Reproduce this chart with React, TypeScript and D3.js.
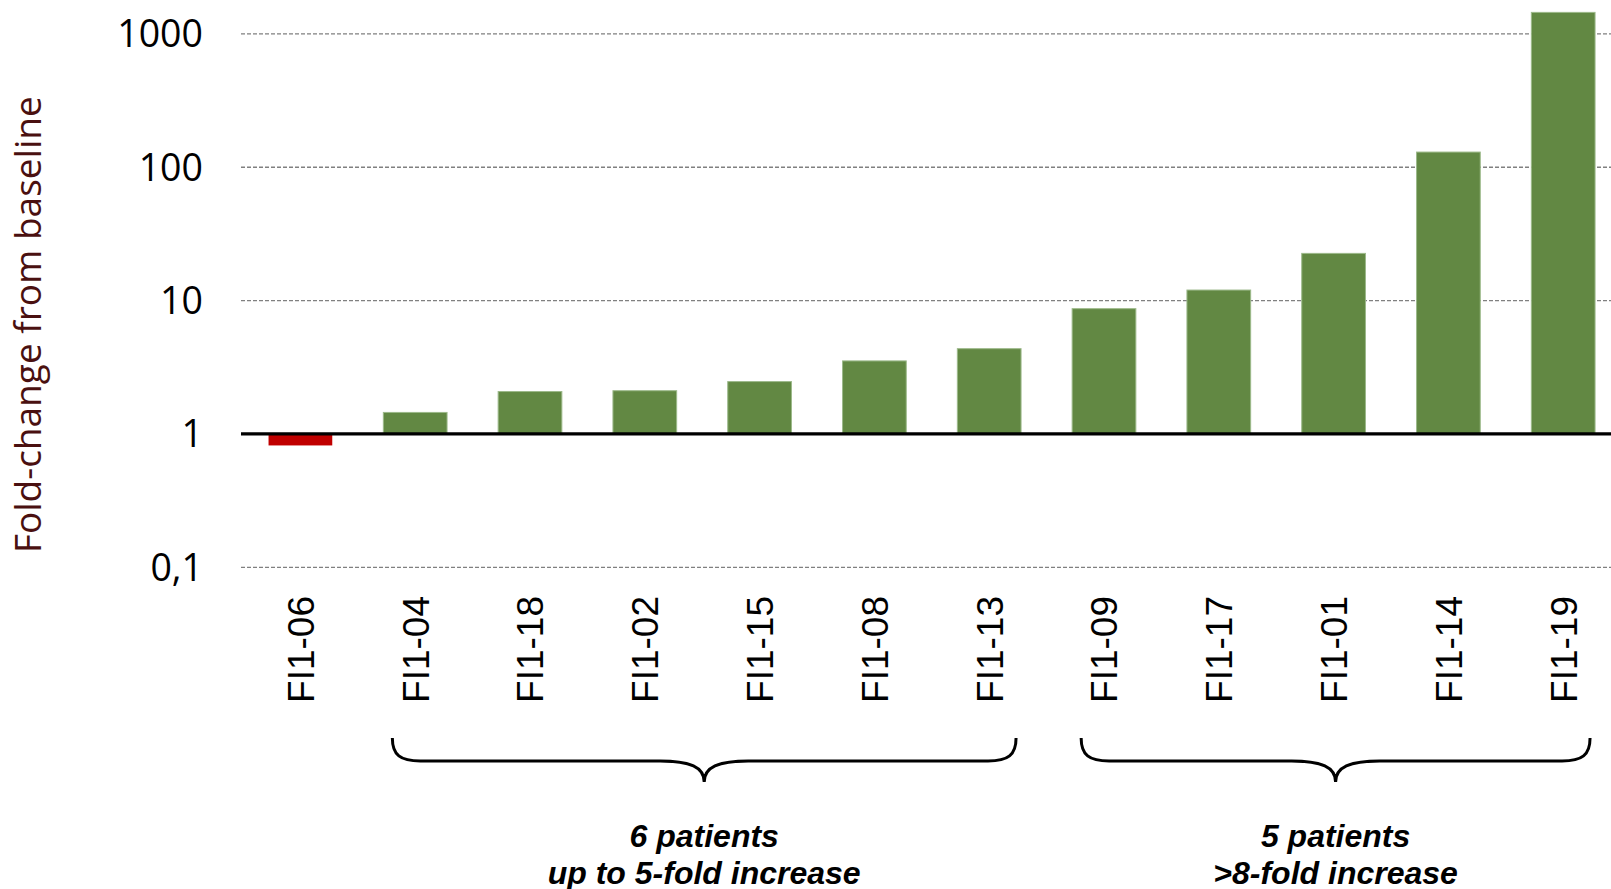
import React from 'react';
import * as d3 from 'd3';

// patients, ordered as in the chart
const patients = ['FI1-06', 'FI1-04', 'FI1-18', 'FI1-02', 'FI1-15', 'FI1-08', 'FI1-13', 'FI1-09', 'FI1-17', 'FI1-01', 'FI1-14', 'FI1-19'];
// fold-change from baseline
const foldChange = [0.82, 1.45, 2.08, 2.11, 2.47, 3.53, 4.36, 8.7, 12.0, 22.6, 130, 1450];
const yTicks = [0.1, 1, 10, 100, 1000];
const yTickLabels = ['0,1', '1', '10', '100', '1000'];
const groupFrom = ['FI1-04', 'FI1-09'];
const groupTo = ['FI1-13', 'FI1-19'];
const groupLines = [
  ['6 patients', 'up to 5-fold increase'],
  ['5 patients', '>8-fold increase'],
];

const W = 1611;
const H = 889;

function bracePath(x1: number, x2: number, yTop: number, yMid: number, yTip: number) {
  const xc = (x1 + x2) / 2;
  const r = 28;
  const r2 = 44;
  return [
    `M${x1},${yTop}`,
    `C${x1},${yMid - 6} ${x1 + 8},${yMid} ${x1 + r},${yMid}`,
    `L${xc - r2},${yMid}`,
    `C${xc - 14},${yMid} ${xc},${yMid + 6} ${xc},${yTip}`,
    `C${xc},${yMid + 6} ${xc + 14},${yMid} ${xc + r2},${yMid}`,
    `L${x2 - r},${yMid}`,
    `C${x2 - 8},${yMid} ${x2},${yMid - 6} ${x2},${yTop}`,
  ].join(' ');
}

export default function App() {
  const left = 243;
  const step = 114.8;

  const x = d3.scaleBand<string>()
    .domain(patients)
    .range([left, left + step * patients.length])
    .paddingInner(0.445)
    .paddingOuter(0.2225);

  const y = d3.scaleLog()
    .domain([0.1, 1000])
    .range([567.3, 33.9]);

  const bw = x.bandwidth();
  const y1 = y(1);

  return (
    <svg width={W} height={H} style={{ position: 'absolute', left: 0, top: 0, background: '#fff' }}>
      {/* Gridlines */}
      {yTicks.filter(t => t !== 1).map(t => (
        <line key={t} x1={241} x2={W} y1={y(t)} y2={y(t)}
          stroke="#808080" strokeWidth={1.3} strokeDasharray="4,2" />
      ))}

      {/* Y tick labels */}
      {yTicks.map((t, i) => (
        <text key={t} x={203} y={y(t)} dy="0.36em" textAnchor="end"
          fontFamily="'Open Sans', sans-serif" fontSize={37.5} fill="#000">
          {yTickLabels[i]}
        </text>
      ))}

      {/* Y axis title */}
      <text transform={`translate(41,324.7) rotate(-90)`} textAnchor="middle"
        fontFamily="'Open Sans', sans-serif" fontSize={37} fill="#4a1010">
        Fold-change from baseline
      </text>

      {/* Bars */}
      {patients.map((p, i) => {
        const v = foldChange[i];
        const yv = y(v);
        const up = v >= 1;
        return (
          <rect key={p} x={x(p)} width={bw}
            y={up ? yv : y1} height={Math.abs(yv - y1)}
            fill={up ? '#628843' : '#c00000'}
            stroke={up ? '#9cb98a' : 'none'} strokeWidth={1} />
        );
      })}

      {/* Baseline at 1 */}
      <line x1={241} x2={W} y1={y1} y2={y1} stroke="#000" strokeWidth={3.2} />

      {/* X labels */}
      {patients.map(p => (
        <text key={p} transform={`translate(${(x(p) as number) + bw / 2},596) rotate(-90)`}
          dy="0.36em" textAnchor="end"
          fontFamily="'Liberation Sans', Arial, sans-serif" fontSize={37} fill="#000">
          {p}
        </text>
      ))}

      {/* Group braces and notes */}
      {groupFrom.map((g, i) => {
        const x1 = (x(g) as number) + 9;
        const x2 = (x(groupTo[i]) as number) + bw - 5;
        const xc = (x1 + x2) / 2;
        return (
          <g key={g}>
            <path d={bracePath(x1, x2, 738, 761, 782)} fill="none" stroke="#000" strokeWidth={3} />
            {groupLines[i].map((line, j) => (
              <text key={j} x={xc} y={847 + j * 37}
                textAnchor="middle" fontFamily="'Liberation Sans', Arial, sans-serif"
                fontSize={32} fontWeight="bold" fontStyle="italic" fill="#000">
                {line}
              </text>
            ))}
          </g>
        );
      })}
    </svg>
  );
}
